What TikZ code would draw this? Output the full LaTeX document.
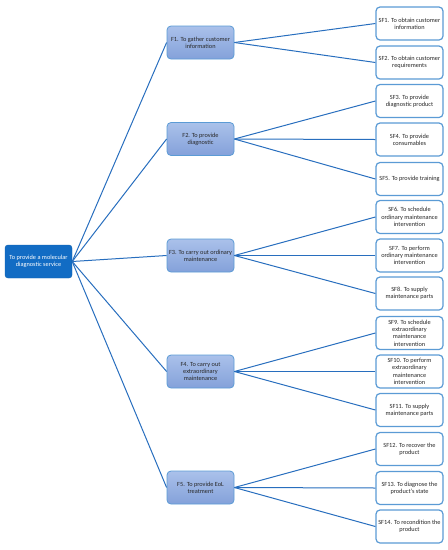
\documentclass[tikz,border=0pt]{standalone}
\usepackage{fontspec}
\setmainfont{Carlito}
\usepackage{tikz}
\usetikzlibrary{arrows.meta, positioning}
\definecolor{rootcolor}{RGB}{18, 108, 196}
\definecolor{linecolor}{RGB}{40, 110, 190}
\definecolor{boxborder}{RGB}{91, 155, 213}
\definecolor{ftop}{RGB}{170, 193, 234}
\definecolor{fbottom}{RGB}{132, 161, 218}
\definecolor{textcolor}{RGB}{40, 40, 40}

\begin{document}
\begin{tikzpicture}[
    x=1pt, y=-1pt,
    rootbox/.style={draw=rootcolor!90!black, fill=rootcolor, rounded corners=3pt, minimum width=67pt, minimum height=33pt, align=center, text=white, font=\fontsize{6.3}{7.3}\selectfont, inner sep=1pt},
    fbox/.style={draw=boxborder, line width=0.8pt, top color=ftop, bottom color=fbottom, rounded corners=4pt, minimum width=67pt, minimum height=33pt, align=center, text=textcolor, font=\fontsize{6.3}{7.3}\selectfont, inner sep=1pt},
    sfbox/.style={draw=boxborder, line width=1.2pt, fill=white, rounded corners=4pt, minimum width=67pt, minimum height=33pt, align=center, text=textcolor, font=\fontsize{6.3}{7.3}\selectfont, inner sep=1pt},
    link/.style={draw=linecolor, line width=1pt}
]
    \useasboundingbox (0,0) rectangle (448,550);

    % Main function
    \node[rootbox] (root) at (38.5, 261.5) {To provide a molecular\\diagnostic service};

    % Functions
    \node[fbox] (f1) at (200.5, 42.5) {F1. To gather customer\\information};
    \node[fbox] (f2) at (200.5, 139) {F2. To provide\\diagnostic};
    \node[fbox] (f3) at (200.5, 255.5) {F3. To carry out ordinary\\maintenance};
    \node[fbox] (f4) at (200.5, 371.5) {F4. To carry out\\extraordinary\\maintenance};
    \node[fbox] (f5) at (200.5, 487.5) {F5. To provide EoL\\treatment};

    % Sub-functions
    \node[sfbox] (sf1) at (409.5, 23.5) {SF1. To obtain customer\\information};
    \node[sfbox] (sf2) at (409.5, 62.5) {SF2. To obtain customer\\requirements};
    \node[sfbox] (sf3) at (409.5, 101) {SF3. To provide\\diagnostic product};
    \node[sfbox] (sf4) at (409.5, 139.5) {SF4. To provide\\consumables};
    \node[sfbox] (sf5) at (409.5, 179) {SF5. To provide training};
    \node[sfbox] (sf6) at (409.5, 217) {SF6. To schedule\\ordinary maintenance\\intervention};
    \node[sfbox] (sf7) at (409.5, 255.5) {SF7. To perform\\ordinary maintenance\\intervention};
    \node[sfbox] (sf8) at (409.5, 293.5) {SF8. To supply\\maintenance parts};
    \node[sfbox] (sf9) at (409.5, 333) {SF9. To schedule\\extraordinary\\maintenance\\intervention};
    \node[sfbox] (sf10) at (409.5, 371.5) {SF10. To perform\\extraordinary\\maintenance\\intervention};
    \node[sfbox] (sf11) at (409.5, 410) {SF11. To supply\\maintenance parts};
    \node[sfbox] (sf12) at (409.5, 449) {SF12. To recover the\\product};
    \node[sfbox] (sf13) at (409.5, 488) {SF13. To diagnose the\\product's state};
    \node[sfbox] (sf14) at (409.5, 526.5) {SF14. To recondition the\\product};

    % Connections root -> functions
    \draw[link] (root.east) -- (f1.west);
    \draw[link] (root.east) -- (f2.west);
    \draw[link] (root.east) -- (f3.west);
    \draw[link] (root.east) -- (f4.west);
    \draw[link] (root.east) -- (f5.west);

    % Connections functions -> sub-functions
    \draw[link] (f1.east) -- (sf1.west);
    \draw[link] (f1.east) -- (sf2.west);
    \draw[link] (f2.east) -- (sf3.west);
    \draw[link] (f2.east) -- (sf4.west);
    \draw[link] (f2.east) -- (sf5.west);
    \draw[link] (f3.east) -- (sf6.west);
    \draw[link] (f3.east) -- (sf7.west);
    \draw[link] (f3.east) -- (sf8.west);
    \draw[link] (f4.east) -- (sf9.west);
    \draw[link] (f4.east) -- (sf10.west);
    \draw[link] (f4.east) -- (sf11.west);
    \draw[link] (f5.east) -- (sf12.west);
    \draw[link] (f5.east) -- (sf13.west);
    \draw[link] (f5.east) -- (sf14.west);

\end{tikzpicture}
\end{document}
